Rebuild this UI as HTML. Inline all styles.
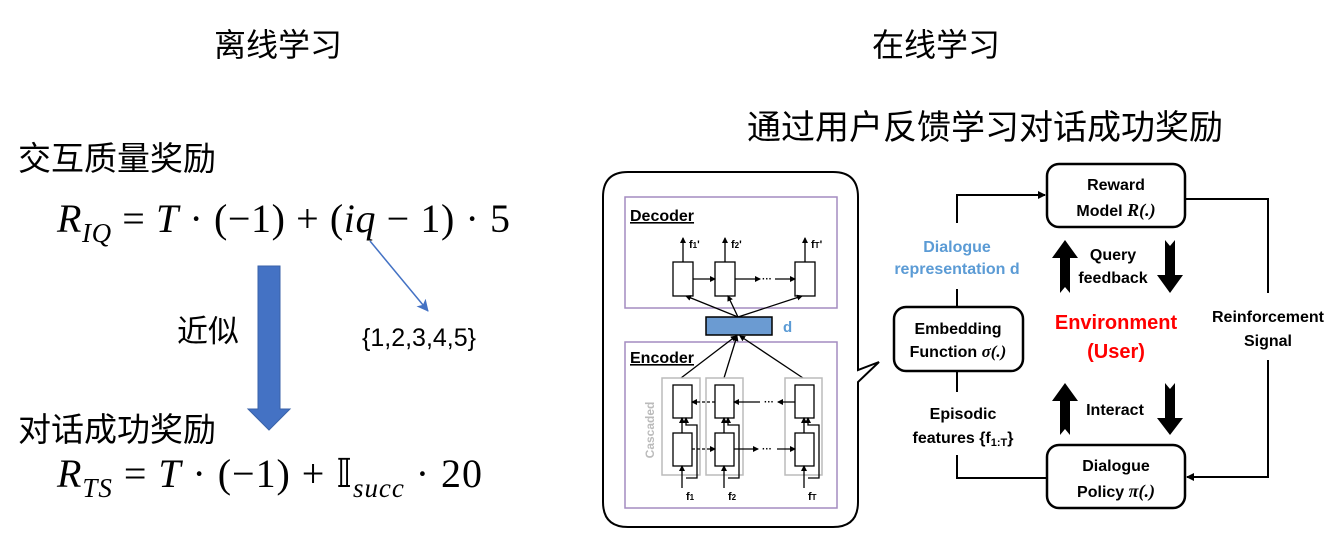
<!DOCTYPE html>
<html><head><meta charset="utf-8"><style>
body{margin:0;width:1338px;height:542px;background:#fff;overflow:hidden}
svg{display:block}
.cjk{font-family:"Liberation Sans","Noto Sans CJK SC",sans-serif}
.m{font-family:"Liberation Serif",serif}
.b{font-family:"Liberation Sans",sans-serif;font-weight:bold}
</style></head><body>
<svg width="1338" height="542" viewBox="0 0 1338 542" xmlns="http://www.w3.org/2000/svg">
<defs>
<marker id="ah" markerWidth="8" markerHeight="8" refX="7" refY="4" orient="auto" markerUnits="userSpaceOnUse"><path d="M0,0 L8,4 L0,8 z" fill="#000"/></marker>
<marker id="bh" markerWidth="12" markerHeight="12" refX="11" refY="6" orient="auto" markerUnits="userSpaceOnUse"><path d="M0,0 L12,6 L0,12 L3,6 z" fill="#4472c4"/></marker>
<marker id="sh" markerWidth="6" markerHeight="6" refX="5" refY="3" orient="auto" markerUnits="userSpaceOnUse"><path d="M0,0 L6,3 L0,6 z" fill="#000"/></marker>
</defs>
<!-- left side -->
<text x="278" y="56" font-size="32" text-anchor="middle" class="cjk">离线学习</text>
<text x="18" y="170" font-size="33" class="cjk">交互质量奖励</text>
<text x="57" y="232" font-size="40" class="m" textLength="453" lengthAdjust="spacing"><tspan font-style="italic">R</tspan><tspan font-size="27" dy="10" font-style="italic">IQ</tspan><tspan dy="-10"> = </tspan><tspan font-style="italic">T</tspan> · (−1) + (<tspan font-style="italic">iq</tspan> − 1) · 5</text>
<line x1="370" y1="241" x2="428" y2="311" stroke="#4472c4" stroke-width="1.5" marker-end="url(#bh)"/>
<text x="362" y="346" font-size="25" class="cjk">{1,2,3,4,5}</text>
<polygon points="258,266 280,266 280,409 290,409 269,430 248,409 258,409" fill="#4472c4" stroke="#3a62a8"/>
<text x="177" y="342" font-size="31" class="cjk">近似</text>
<text x="18" y="441" font-size="33" class="cjk">对话成功奖励</text>
<text x="57" y="487" font-size="40" class="m" textLength="425" lengthAdjust="spacing"><tspan font-style="italic">R</tspan><tspan font-size="27" dy="10" font-style="italic">TS</tspan><tspan dy="-10"> = </tspan><tspan font-style="italic">T</tspan> · (−1) + 𝕀<tspan font-size="27" dy="10" font-style="italic">succ</tspan><tspan dy="-10"> · 20</tspan></text>
<!-- right titles -->
<text x="936" y="56" font-size="32" text-anchor="middle" class="cjk">在线学习</text>
<text x="985" y="139" font-size="34" text-anchor="middle" class="cjk">通过用户反馈学习对话成功奖励</text>
<!-- bubble -->
<path d="M628,172 L833,172 Q858,172 858,197 L858,370 L879,362 L858,382 L858,502 Q858,527 833,527 L628,527 Q603,527 603,502 L603,197 Q603,172 628,172 Z" fill="#fff" stroke="#000" stroke-width="2"/>
<rect x="625" y="197" width="212" height="111" fill="none" stroke="#a48cc0" stroke-width="1.5"/>
<rect x="625" y="342" width="212" height="166" fill="none" stroke="#a48cc0" stroke-width="1.5"/>
<text x="630" y="221" font-size="16" class="b" text-decoration="underline">Decoder</text>
<text x="630" y="363" font-size="16" class="b" text-decoration="underline">Encoder</text>
<g stroke="#000" stroke-width="1.3" fill="#fff">
<rect x="673" y="262" width="20" height="34"/><rect x="715" y="262" width="20" height="34"/><rect x="795" y="262" width="20" height="34"/>
</g>
<g stroke="#000" stroke-width="1.3" marker-end="url(#sh)">
<line x1="683" y1="262" x2="683" y2="238"/><line x1="725" y1="262" x2="725" y2="238"/><line x1="805" y1="262" x2="805" y2="238"/>
<line x1="693" y1="279" x2="715" y2="279"/><line x1="735" y1="279" x2="760" y2="279"/><line x1="775" y1="279" x2="795" y2="279"/>
<line x1="738" y1="317" x2="686" y2="296"/><line x1="738" y1="317" x2="728" y2="296"/><line x1="738" y1="317" x2="802" y2="296"/>
<line x1="681" y1="378" x2="736" y2="336"/><line x1="724" y1="378" x2="737" y2="336"/><line x1="803" y1="378" x2="740" y2="336"/>
</g>
<text x="689" y="248" font-size="11" class="b">f<tspan font-size="8">1</tspan>'</text>
<text x="731" y="248" font-size="11" class="b">f<tspan font-size="8">2</tspan>'</text>
<text x="811" y="248" font-size="11" class="b">f<tspan font-size="8">T</tspan>'</text>
<text x="762" y="282" font-size="10" class="b">···</text>
<rect x="706" y="317" width="66" height="18" fill="#6b9bd2" stroke="#000" stroke-width="1.5"/>
<text x="783" y="332" font-size="15" fill="#5b9bd5" class="b">d</text>
<g fill="none" stroke="#bbb" stroke-width="1.5">
<rect x="662" y="378" width="38" height="97"/><rect x="706" y="378" width="37" height="97"/><rect x="785" y="378" width="37" height="97"/>
</g>
<text transform="translate(654,430) rotate(-90)" font-size="12" fill="#bbb" text-anchor="middle" class="b">Cascaded</text>
<g stroke="#000" stroke-width="1.3" fill="#fff">
<rect x="673" y="385" width="19" height="33"/><rect x="715" y="385" width="19" height="33"/><rect x="795" y="385" width="19" height="33"/>
<rect x="673" y="433" width="19" height="33"/><rect x="715" y="433" width="19" height="33"/><rect x="795" y="433" width="19" height="33"/>
</g>
<g stroke="#000" stroke-width="1.3" fill="none" marker-end="url(#sh)">
<line x1="715" y1="402" x2="692" y2="402" stroke-dasharray="3,2"/><line x1="760" y1="402" x2="734" y2="402"/><line x1="795" y1="402" x2="778" y2="402"/>
<line x1="692" y1="449" x2="715" y2="449" stroke-dasharray="3,2"/><line x1="734" y1="449" x2="758" y2="449"/><line x1="777" y1="449" x2="795" y2="449"/>
<line x1="682" y1="488" x2="682" y2="466"/><line x1="724" y1="488" x2="724" y2="466"/><line x1="804" y1="488" x2="804" y2="466"/>
<line x1="682" y1="433" x2="682" y2="418"/><line x1="724" y1="433" x2="724" y2="418"/><line x1="804" y1="433" x2="804" y2="418"/>
<polyline points="686,478 697,478 697,425 686,425 686,418"/><polyline points="728,478 739,478 739,425 728,425 728,418"/><polyline points="808,478 819,478 819,425 808,425 808,418"/>
</g>
<text x="764" y="405" font-size="10" class="b">···</text><text x="762" y="452" font-size="10" class="b">···</text>
<text x="686" y="500" font-size="11" class="b">f<tspan font-size="8">1</tspan></text>
<text x="728" y="500" font-size="11" class="b">f<tspan font-size="8">2</tspan></text>
<text x="808" y="500" font-size="11" class="b">f<tspan font-size="8">T</tspan></text>
<!-- right diagram -->
<g fill="#fff" stroke="#000" stroke-width="2.5">
<rect x="1047" y="164" width="138" height="63" rx="12"/>
<rect x="1047" y="445" width="138" height="63" rx="12"/>
<rect x="894" y="307" width="129" height="64" rx="12"/>
</g>
<g fill="none" stroke="#000" stroke-width="2">
<polyline points="957,223 957,195 1045,195" marker-end="url(#ah)"/>
<line x1="957" y1="289" x2="957" y2="307"/>
<line x1="957" y1="371" x2="957" y2="392"/>
<polyline points="957,455 957,478 1047,478"/>
<polyline points="1185,199 1268,199 1268,293"/>
<polyline points="1268,360 1268,477 1187,477" marker-end="url(#ah)"/>
</g>
<g fill="#000">
<polygon points="1060,293 1060,258 1052,258 1065,240 1078,258 1070,258 1070,293 1065,287"/>
<polygon points="1165,240 1170,246 1175,240 1175,275 1183,275 1170,293 1157,275 1165,275"/>
<polygon points="1060,435 1060,401 1052,401 1065,383 1078,401 1070,401 1070,435 1065,429"/>
<polygon points="1165,383 1170,389 1175,383 1175,418 1183,418 1170,435 1157,418 1165,418"/>
</g>
<g class="b" font-size="16" text-anchor="middle">
<text x="1116" y="190">Reward</text>
<text x="1116" y="216">Model <tspan font-family="Liberation Serif" font-style="italic" font-size="18">R(.)</tspan></text>
<text x="1116" y="471">Dialogue</text>
<text x="1116" y="497">Policy <tspan font-family="Liberation Serif" font-style="italic" font-size="18">π(.)</tspan></text>
<text x="958" y="334">Embedding</text>
<text x="958" y="357">Function <tspan font-family="Liberation Serif" font-style="italic" font-size="17">σ(.)</tspan></text>
<text x="957" y="252" fill="#5b9bd5">Dialogue</text>
<text x="957" y="274" fill="#5b9bd5">representation d</text>
<text x="963" y="419">Episodic</text>
<text x="963" y="443">features {f<tspan font-size="11" dy="3">1:T</tspan><tspan dy="-3">}</tspan></text>
<text x="1113" y="260">Query</text>
<text x="1113" y="283">feedback</text>
<text x="1115" y="415">Interact</text>
<text x="1268" y="322">Reinforcement</text>
<text x="1268" y="346">Signal</text>
<text x="1116" y="329" font-size="20" fill="#ff0000">Environment</text>
<text x="1116" y="358" font-size="20" fill="#ff0000">(User)</text>
</g>
</svg>
</body></html>
